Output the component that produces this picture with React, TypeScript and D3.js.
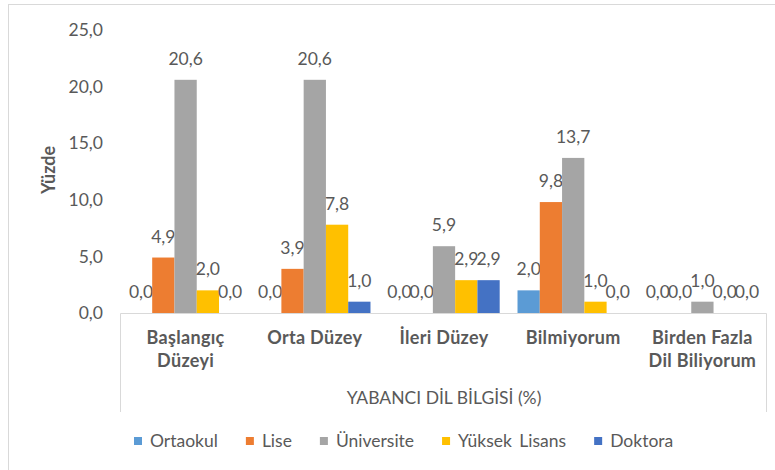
import React, { useRef, useEffect } from 'react';
import * as d3 from 'd3';

const categories = [
  ['Başlangıç', 'Düzeyi'],
  ['Orta Düzey'],
  ['İleri Düzey'],
  ['Bilmiyorum'],
  ['Birden Fazla', 'Dil Biliyorum'],
];
const seriesNames = ['Ortaokul', 'Lise', 'Üniversite', 'Yüksek Lisans', 'Doktora'];
const seriesColors = ['#5B9BD5', '#ED7D31', '#A5A5A5', '#FFC000', '#4472C4'];

const ortaokul = [0.0, 0.0, 0.0, 2.0, 0.0];
const lise = [4.9, 3.9, 0.0, 9.8, 0.0];
const universite = [20.6, 20.6, 5.9, 13.7, 1.0];
const yuksekLisans = [2.0, 7.8, 2.9, 1.0, 0.0];
const doktora = [0.0, 1.0, 2.9, 0.0, 0.0];
const seriesValues = [ortaokul, lise, universite, yuksekLisans, doktora];

const yTicks = [0, 5, 10, 15, 20, 25];

const W = 775;
const H = 470;
const FONT = 'Lato, "Open Sans", sans-serif';
const TEXT = '#595959';

const fmt = (v: number) => d3.format('.1f')(v).replace('.', ',');

const App = () => {
  const svgRef = useRef<SVGSVGElement>(null);

  useEffect(() => {
    const svg = d3.select(svgRef.current);
    svg.selectAll('*').remove();

    const plot = { left: 121, right: 767, top: 30, bottom: 313 };
    const catKeys = categories.map((c) => c.join(' '));

    const x0 = d3.scaleBand().domain(catKeys).range([plot.left, plot.right]);
    const x1 = d3.scaleBand().domain(seriesNames).range([0, x0.bandwidth()]).paddingOuter(0.4);
    const y = d3.scaleLinear().domain([0, 25]).range([plot.bottom, plot.top]);

    // outer chart border
    svg.append('rect')
      .attr('x', 8.5).attr('y', 4.5)
      .attr('width', 790).attr('height', 490)
      .attr('fill', '#fff')
      .attr('stroke', '#d9d9d9');

    // category table box
    svg.append('path')
      .attr('d', `M${plot.left - 0.5},412 V${plot.bottom + 0.5} H${plot.right - 0.5} V412`)
      .attr('fill', 'none')
      .attr('stroke', '#d9d9d9');

    // y ticks
    svg.append('g')
      .selectAll('text')
      .data(yTicks)
      .enter()
      .append('text')
      .attr('x', 103)
      .attr('y', (d) => y(d))
      .attr('dy', '0.35em')
      .attr('text-anchor', 'end')
      .style('font', `17.5px ${FONT}`)
      .attr('fill', TEXT)
      .text((d) => fmt(d));

    svg.append('text')
      .attr('transform', `translate(55, 170) rotate(-90)`)
      .attr('text-anchor', 'middle')
      .style('font', `bold 18px ${FONT}`)
      .attr('fill', TEXT)
      .text('Yüzde');

    // bars
    const groups = svg.append('g')
      .selectAll('g')
      .data(catKeys)
      .enter()
      .append('g')
      .attr('transform', (d) => `translate(${x0(d)},0)`);

    const cells = groups.selectAll('g')
      .data((_, i) => seriesNames.map((s, j) => ({ s, j, v: seriesValues[j][i] })))
      .enter()
      .append('g');

    cells.append('rect')
      .attr('x', (d) => x1(d.s) as number)
      .attr('y', (d) => y(d.v))
      .attr('width', x1.bandwidth())
      .attr('height', (d) => plot.bottom - y(d.v))
      .attr('fill', (d) => seriesColors[d.j]);

    cells.append('text')
      .attr('x', (d) => (x1(d.s) as number) + x1.bandwidth() / 2)
      .attr('y', (d) => y(d.v) - 15)
      .attr('text-anchor', 'middle')
      .style('font', `17.5px ${FONT}`)
      .attr('fill', TEXT)
      .text((d) => fmt(d.v));

    // category labels
    const catLabels = svg.append('g')
      .selectAll('text')
      .data(categories)
      .enter()
      .append('text')
      .attr('x', (d) => (x0(d.join(' ')) as number) + x0.bandwidth() / 2)
      .attr('y', 344)
      .attr('text-anchor', 'middle')
      .style('font', `bold 18px ${FONT}`)
      .style('letter-spacing', '0.3px')
      .attr('fill', TEXT);

    catLabels.selectAll('tspan')
      .data((d) => d)
      .enter()
      .append('tspan')
      .attr('x', function () {
        return (this.parentNode as SVGTextElement).getAttribute('x');
      })
      .attr('dy', (_, i) => (i === 0 ? 0 : 23))
      .text((d) => d);

    svg.append('text')
      .attr('x', (plot.left + plot.right) / 2)
      .attr('y', 404)
      .attr('text-anchor', 'middle')
      .style('font', `17.5px ${FONT}`)
      .attr('fill', TEXT)
      .text('YABANCI DİL BİLGİSİ (%)');

    // legend
    const legend = svg.append('g');
    let lx = 134;
    seriesNames.forEach((name, i) => {
      legend.append('rect')
        .attr('x', lx).attr('y', 437)
        .attr('width', 8).attr('height', 8)
        .attr('fill', seriesColors[i]);
      const t = legend.append('text')
        .attr('x', lx + 16)
        .attr('y', 441)
        .attr('dy', '0.35em')
        .style('font', `17.5px ${FONT}`)
        .style('word-spacing', '3px')
        .attr('fill', TEXT)
        .text(name);
      const w = (t.node() as SVGTextElement).getComputedTextLength();
      lx = lx + 16 + w + 28;
    });
  }, []);

  return (
    <svg
      ref={svgRef}
      width={W}
      height={H}
      style={{ position: 'absolute', left: 0, top: 0, display: 'block', overflow: 'hidden' }}
    />
  );
};

export default App;
